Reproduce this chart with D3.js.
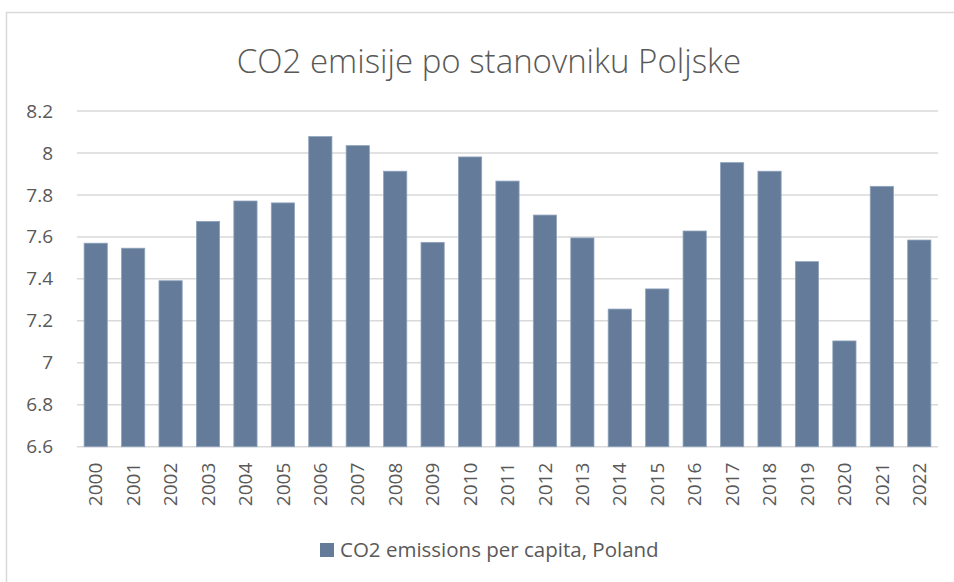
<!DOCTYPE html>
<html>
<head>
<meta charset="utf-8">
<script src="https://cdn.jsdelivr.net/npm/d3@7"></script>
<style>
  body { margin: 0; background: #fff; }
  text { font-family: "Open Sans", "Liberation Sans", sans-serif; fill: #595959; }
</style>
</head>
<body>
<script>
// data
var years = ["2000","2001","2002","2003","2004","2005","2006","2007","2008","2009","2010",
  "2011","2012","2013","2014","2015","2016","2017","2018","2019","2020","2021","2022"];
var co2 = [7.57, 7.546, 7.391, 7.674, 7.771, 7.762, 8.078, 8.035, 7.913, 7.574, 7.981,
  7.866, 7.704, 7.595, 7.256, 7.352, 7.628, 7.954, 7.913, 7.482, 7.104, 7.841, 7.585];
var yTicks = [6.6, 6.8, 7, 7.2, 7.4, 7.6, 7.8, 8, 8.2];
var seriesName = "CO2 emissions per capita, Poland";
var title = "CO2 emisije po stanovniku Poljske";

var svgWidth = 954;
var svgHeight = 582;

var margin = { top: 111, right: 16, bottom: 135, left: 77 };
var width = svgWidth - margin.left - margin.right;
var height = 446.7 - margin.top;

var svg = d3.select("body")
  .append("svg")
  .attr("width", svgWidth)
  .attr("height", svgHeight);

// chart frame (only left and top edges visible in the shot)
svg.append("rect")
  .attr("x", 6.5)
  .attr("y", 12.5)
  .attr("width", 960)
  .attr("height", 600)
  .attr("fill", "none")
  .attr("stroke", "#d9d9d9")
  .attr("stroke-width", 1.5);

svg.append("text")
  .attr("x", 489)
  .attr("y", 73)
  .attr("text-anchor", "middle")
  .style("font-size", "33px")
  .style("font-weight", 300)
  .text(title);

var chartGroup = svg.append("g")
  .attr("transform", `translate(${margin.left}, ${margin.top})`);

var xScale = d3.scaleBand()
  .domain(years)
  .range([0, width])
  .paddingInner(0.38)
  .paddingOuter(0.19);

var yScale = d3.scaleLinear()
  .domain([6.6, 8.2])
  .range([height, 0]);

// gridlines
chartGroup.append("g")
  .selectAll("line")
  .data(yTicks)
  .enter()
  .append("line")
  .attr("x1", 0)
  .attr("x2", width)
  .attr("y1", d => yScale(d))
  .attr("y2", d => yScale(d))
  .attr("stroke", "#d9d9d9")
  .attr("stroke-width", 1.5);

// y axis labels
var leftAxis = d3.axisLeft(yScale)
  .tickValues(yTicks)
  .tickFormat(d3.format("~g"))
  .tickSize(0)
  .tickPadding(24);

var yAxis = chartGroup.append("g").call(leftAxis);
yAxis.select(".domain").remove();
yAxis.selectAll("text")
  .style("font-size", "19px")
  .attr("fill", "#595959");

// bars
chartGroup.selectAll("rect.bar")
  .data(co2)
  .enter()
  .append("rect")
  .attr("class", "bar")
  .attr("x", (d, i) => xScale(years[i]))
  .attr("y", d => yScale(d))
  .attr("width", xScale.bandwidth())
  .attr("height", d => height - yScale(d))
  .attr("fill", "#647c9a")
  .attr("stroke", "#8fa3bc")
  .attr("stroke-width", 0.8);

// x axis labels, rotated
var bottomAxis = d3.axisBottom(xScale).tickSize(0).tickPadding(0);
var xAxis = chartGroup.append("g")
  .attr("transform", `translate(0, ${height})`)
  .call(bottomAxis);
xAxis.select(".domain").remove();
xAxis.selectAll("text")
  .style("font-size", "19px")
  .attr("fill", "#595959")
  .attr("text-anchor", "end")
  .attr("dy", "0.35em")
  .attr("transform", "translate(0, 16) rotate(-90)")
  .attr("x", 0)
  .attr("y", 0);

// legend
var legend = svg.append("g").attr("transform", "translate(320, 543)");
legend.append("rect")
  .attr("width", 14)
  .attr("height", 14)
  .attr("fill", "#647c9a");
legend.append("text")
  .attr("x", 20)
  .attr("y", 14)
  .style("font-size", "20.5px")
  .text(seriesName);
</script>
</body>
</html>
